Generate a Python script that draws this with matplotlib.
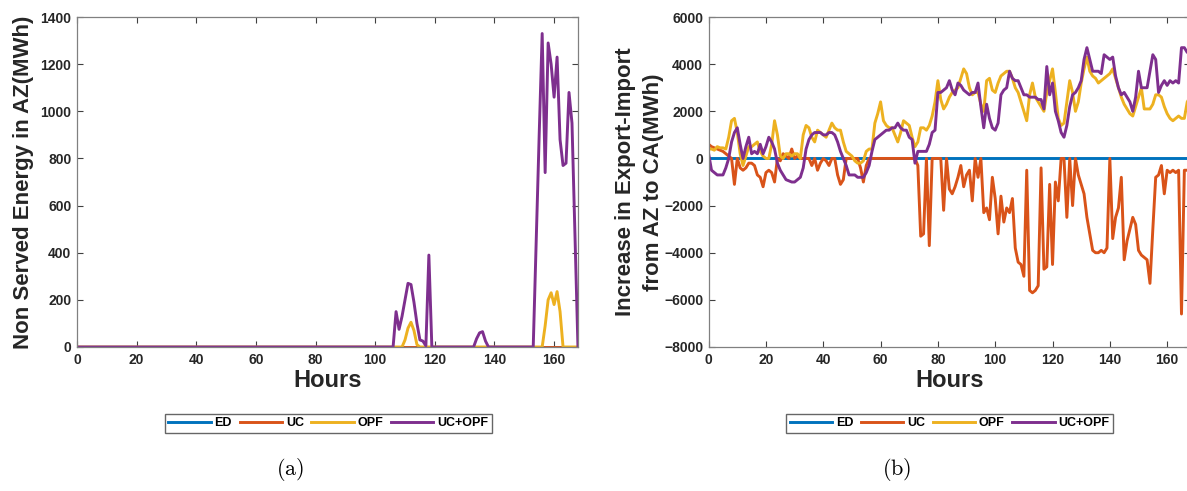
import matplotlib
matplotlib.use('Agg')
import matplotlib.pyplot as plt
import numpy as np

# ---- data ----
hours = list(range(0, 169))
series_names = ['ED', 'UC', 'OPF', 'UC+OPF']
colors = ['#0072BD', '#D95319', '#EDB120', '#7E2F8E']

# (a) non served energy in AZ (MWh)
nse_ed = [0] * 169
nse_uc = [0] * 169
nse_opf = ([0] * 110
           + [30, 80, 105, 70, 10, 0]
           + [0] * 41
           + [90, 200, 230, 180, 235, 150, 0]
           + [0] * 5)
nse_ucopf = ([0] * 107
             + [150, 75, 130, 200, 270, 265, 190, 100, 30, 25, 5, 390, 0]
             + [0] * 14
             + [35, 60, 65, 25, 0]
             + [0] * 15
             + [450, 900, 1330, 740, 1290, 1200, 1060, 1230, 880, 770, 780,
                1080, 950, 470, 0])

# (b) increase in export-import from AZ to CA (MWh)
exp_ed = [0] * 169
exp_uc = [600,
          500, 450, 400, 350, 300, 200, 100, 0, -1100, 0,
          -400, -500, -400, -200, -200, -300, -700, -800, -1200, -600,
          -500, -600, -1000, 0, -100, 200, 100, 0, 400, 0,
          100, 0, 0, 0, 0, -300, 0, -500, -200, 0,
          -100, -300, 0, 0, -700, -1100, -900, 0, 0, 0,
          0, 0, -400, -1000, -300, 0, 0, 0, 0, 0,
          0, 0, 0, 0, 0, 0, 0, 0, 0, 0,
          0, 0, -300, -3300, -3200, 0, -3700, 0, 0, 0,
          0, -2200, 0, -1300, -1500, -1200, -800, -300, -1200, -700,
          -500, -1800, 0, -800, 0, -2300, -2100, -2600, -800, -1700,
          -3200, -1600, -2700, -2100, -2300, -1700, -3800, -4400, -4500, -5000,
          -500, -5600, -5700, -5600, -5400, -400, -4700, -4600, -1100, -4500,
          -1000, -1800, 0, 0, -2500, 0, -2000, 0, -700, -1100,
          -1500, -2500, -3200, -3900, -4000, -4000, -3900, -4000, -3800, 0,
          -3400, -2500, -2100, -800, -4300, -3500, -3000, -2500, -2800, -3900,
          -4100, -4200, -4300, -5300, -3000, -800, -700, -300, -1500, -500,
          -600, -500, -600, -500, -6600, -500, -500, -500]
exp_opf = [400,
           400, 350, 500, 450, 450, 400, 900, 1600, 1700, 1100,
           200, -300, 100, 500, 500, 600, 700, 300, 100, 0,
           0, 600, 1600, 1000, 100, 0, 200, 200, 100, 200,
           200, 0, 1000, 1400, 1300, 900, 700, 1200, 1100, 1000,
           900, 1200, 1500, 1300, 1200, 1200, 700, 300, 200, 100,
           -100, -200, -200, -100, 300, 400, 400, 1500, 1900, 2400,
           1600, 1400, 1300, 1300, 1000, 700, 1100, 1600, 1500, 1400,
           900, 500, 700, 1300, 1300, 1200, 1400, 1800, 2400, 3300,
           2500, 2100, 2300, 2600, 2800, 2900, 3000, 3400, 3800, 3600,
           3000, 2700, 2800, 2800, 2300, 2000, 3300, 3400, 2900, 2800,
           3200, 3500, 3600, 3700, 3700, 3400, 3000, 2800, 2400, 2000,
           1600, 2700, 3200, 2600, 2400, 2200, 2000, 2800, 3300, 3800,
           2800, 1700, 1400, 1500, 2400, 3300, 2800, 2000, 2400, 3200,
           3800, 4300, 3700, 3500, 3400, 3200, 3300, 3400, 3500, 3600,
           3800, 3400, 3000, 2600, 2300, 2100, 1900, 1800, 2200, 2600,
           3000, 2100, 2100, 2100, 2300, 2700, 2700, 2600, 2200, 1900,
           1700, 1600, 1700, 1800, 1700, 1700, 2400, 2600]
exp_ucopf = [200,
             -500, -600, -700, -700, -700, -400, 0, 700, 1100, 1300,
             600, 0, 500, 900, 200, 300, 200, 600, 200, 500,
             900, 700, 400, -200, -500, -700, -900, -950, -1000, -1000,
             -900, -800, -400, 400, 800, 1000, 1100, 1100, 1100, 1000,
             1000, 1100, 1100, 1000, 700, 300, 0, -300, -700, -700,
             -700, -800, -800, -800, -600, -300, 300, 800, 900, 1000,
             1100, 1200, 1200, 1300, 1300, 1500, 1300, 1200, 1200, 900,
             800, -200, 300, 300, 300, 300, 600, 1100, 1200, 2800,
             2800, 2900, 3000, 3300, 2900, 2700, 3200, 3100, 2900, 2800,
             2700, 2800, 2800, 3200, 2200, 1300, 2300, 1700, 1300, 1200,
             1500, 2700, 2900, 3000, 3700, 3400, 3300, 3300, 3000, 2700,
             2700, 2600, 2600, 2600, 2500, 2500, 2100, 3900, 2700, 3200,
             2000, 1600, 1100, 900, 1400, 2200, 2700, 2800, 3000, 3300,
             4200, 4700, 4200, 3700, 3700, 3700, 3600, 4400, 4300, 4200,
             4300, 3500, 3000, 2700, 2800, 2600, 2400, 2000, 2600, 3700,
             3000, 3000, 3000, 3700, 4400, 4200, 2800, 3100, 3300, 3100,
             3300, 3200, 3300, 3200, 4700, 4700, 4500, 4500]

plt.rcParams['font.family'] = ['Liberation Sans', 'DejaVu Sans']
plt.rcParams['mathtext.fontset'] = 'cm'

fig = plt.figure(figsize=(11.87, 4.91), dpi=100)
ax_a = fig.add_axes([0.0649, 0.2933, 0.422, 0.672])
ax_b = fig.add_axes([0.597, 0.2933, 0.4056, 0.672])

axis_col = '#262626'


def style_axes(ax):
    for s in ax.spines.values():
        s.set_color('#808080')
        s.set_linewidth(0.9)
    ax.tick_params(direction='in', top=True, right=True, length=4,
                   width=0.8, color='#404040', labelsize=10,
                   labelcolor=axis_col, pad=4)
    for lab in ax.get_xticklabels() + ax.get_yticklabels():
        lab.set_fontweight('bold')


def add_legend(ax, cx):
    ax.legend(loc='center', bbox_to_anchor=(cx, 0.1375), bbox_transform=fig.transFigure,
              ncol=4, frameon=True, fancybox=False, edgecolor='#404040',
              prop={'weight': 'bold', 'size': 9}, handlelength=3.4, columnspacing=0.6,
              handletextpad=0.3, borderpad=0.3)


# panel (a)
for vals, name, c in zip([nse_ed, nse_uc, nse_opf, nse_ucopf], series_names, colors):
    ax_a.plot(hours, vals, color=c, lw=2.1, label=name)
ax_a.set_xlim(0, 168)
ax_a.set_ylim(0, 1400)
ax_a.set_xticks(np.arange(0, 161, 20))
ax_a.set_yticks(np.arange(0, 1401, 200))
style_axes(ax_a)
ax_a.set_xlabel('Hours', fontsize=17, fontweight='bold', color=axis_col, labelpad=2)
ax_a.set_ylabel('Non Served Energy in AZ(MWh)', fontsize=16, fontweight='bold',
                color=axis_col, labelpad=5)
add_legend(ax_a, 0.2765)

# panel (b)
for vals, name, c in zip([exp_ed, exp_uc, exp_opf, exp_ucopf], series_names, colors):
    ax_b.plot(hours, vals, color=c, lw=2.1, label=name)
ax_b.set_xlim(0, 168)
ax_b.set_ylim(-8000, 6000)
ax_b.set_xticks(np.arange(0, 161, 20))
ax_b.set_yticks(np.arange(-8000, 6001, 2000))
style_axes(ax_b)
ax_b.set_xlabel('Hours', fontsize=17, fontweight='bold', color=axis_col, labelpad=2)
ax_b.set_ylabel('Increase in Export-Import\nfrom AZ to CA(MWh)', fontsize=16,
                fontweight='bold', color=axis_col, labelpad=0, linespacing=1.45)
add_legend(ax_b, 0.800)

fig.text(0.2443, 0.043, r'$(\mathrm{a})$', fontsize=16, ha='center', va='center')
fig.text(0.7557, 0.043, r'$(\mathrm{b})$', fontsize=16, ha='center', va='center')

fig.savefig('out.png', dpi=100)
